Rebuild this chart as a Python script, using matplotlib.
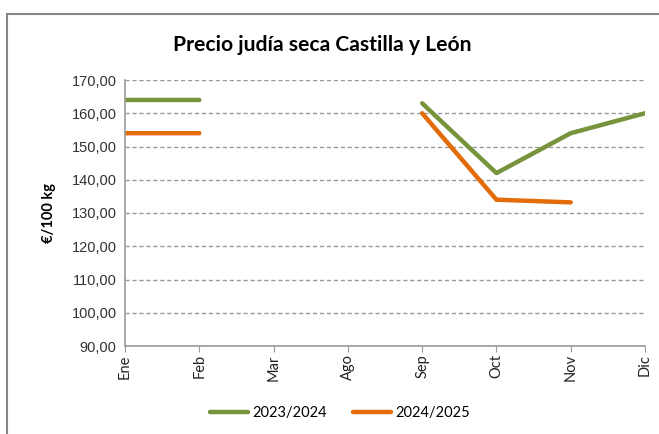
import numpy as np
import matplotlib.pyplot as plt
from matplotlib.patches import Rectangle

# months shown on the axis
months = ['Ene', 'Feb', 'Mar', 'Ago', 'Sep', 'Oct', 'Nov', 'Dic']
# prices in EUR/100 kg, nan = no quotation
s2324 = [164, 164, np.nan, np.nan, 163, 142, 154, 160]
s2425 = [154, 154, np.nan, np.nan, 160, 134, 133.2, np.nan]
labels = ['2023/2024', '2024/2025']
colors = ['#77933C', '#E36C09']

plt.rcParams['font.family'] = ['Lato', 'DejaVu Sans']

fig = plt.figure(figsize=(6.59, 4.34), dpi=100)
ax = fig.add_axes([125/659, 1-346/434, 520/659, 266/434])

x = np.arange(len(months))
for vals, lab, c in zip([s2324, s2425], labels, colors):
    ax.plot(x, vals, color=c, lw=3.2, label=lab, solid_capstyle='round')

ax.set_xlim(0, len(months)-1)
ax.set_ylim(90, 170)
ax.set_yticks(np.arange(90, 171, 10))
ax.set_yticklabels([f'{v},00' for v in range(90, 171, 10)], fontsize=10.5,
                   family='Liberation Sans', color='#333333')
ax.set_xticks(x)
ax.set_xticklabels(months, rotation=90, fontsize=10.5, color='#222222')
ax.tick_params(axis='y', length=0, pad=6)
ax.tick_params(axis='x', length=4, color='#999999', pad=2)
ax.grid(axis='y', color='#999999', ls=(0, (3, 2)), lw=1)
for s in ['top', 'right']:
    ax.spines[s].set_visible(False)
for s in ['left', 'bottom']:
    ax.spines[s].set_color('#999999')
    ax.spines[s].set_linewidth(1.2)

ax.set_ylabel('€/100 kg', fontsize=10.5, fontweight='bold', labelpad=11)
fig.text(322/659, 1-45/434, 'Precio judía seca Castilla y León', fontsize=15.2,
         fontweight='bold', ha='center', va='center')
fig.legend(loc='center', bbox_to_anchor=(340/659, 1-413/434), ncol=2,
           frameon=False, fontsize=10.5, handlelength=2.6, columnspacing=1.8,
           handletextpad=0.3)

# chart-area frame
fig.patches.append(Rectangle((7/659, -0.1), 1.2, 1-14/434+0.1,
                             transform=fig.transFigure, fill=False,
                             ec='#888888', lw=1.5))

fig.savefig('out.png', dpi=100)
